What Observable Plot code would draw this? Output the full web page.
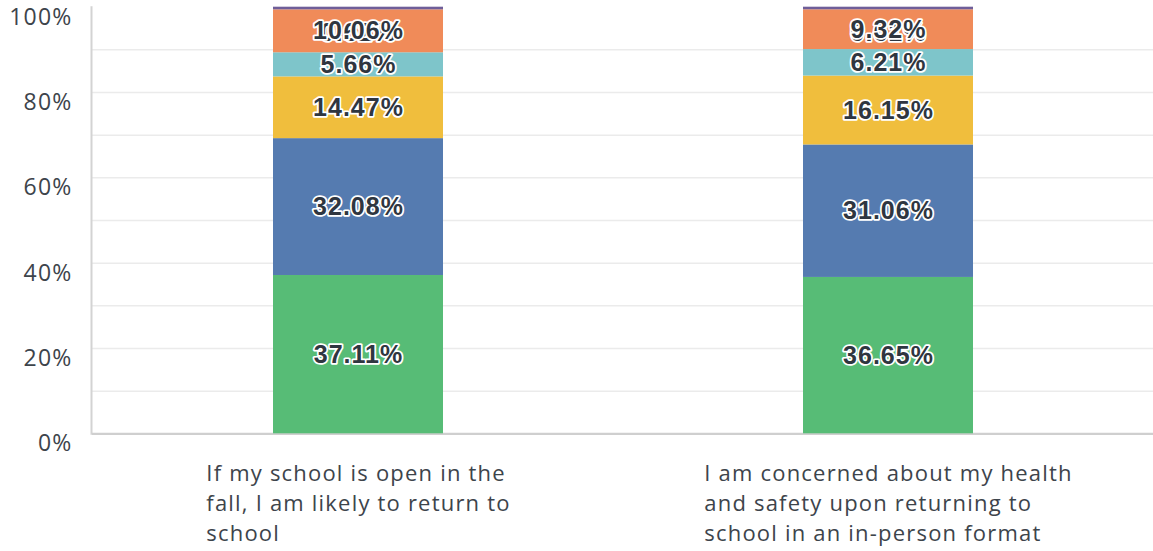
<!DOCTYPE html>
<html>
<head>
<meta charset="utf-8">
<script src="https://cdn.jsdelivr.net/npm/d3@7"></script>
<script src="https://cdn.jsdelivr.net/npm/@observablehq/plot@0.6"></script>
<style>
  html, body { margin: 0; padding: 0; background: #fff; }
  #chart svg { display: block; }
  .qlabel text { letter-spacing: 1.2px; }
  .ylab text { letter-spacing: 1.2px; }
  .vlab text { letter-spacing: 1px; }
</style>
</head>
<body>
<div id="chart"></div>
<script>
const questions = [
  "If my school is open in the fall, I am likely to return to school",
  "I am concerned about my health and safety upon returning to school in an in-person format"
];
const questionLabels = [
  "If my school is open in the\nfall, I am likely to return to\nschool",
  "I am concerned about my health\nand safety upon returning to\nschool in an in-person format"
];
const responses = ["Strongly agree", "Agree", "Neither agree nor disagree", "Disagree", "Strongly disagree", "N/A"];
const colors = ["#57bc76", "#557bb0", "#f0be3d", "#7ec5ca", "#f08b59", "#6f5e99"];
const valuesQ1 = [37.11, 32.08, 14.47, 5.66, 10.06, 0.62];
const valuesQ2 = [36.65, 31.06, 16.15, 6.21, 9.32, 0.61];
const yTicks = [0, 20, 40, 60, 80, 100];
const gridTicks = [10, 20, 30, 40, 50, 60, 70, 80, 90];

const data = [];
[valuesQ1, valuesQ2].forEach((vals, qi) => {
  vals.forEach((v, ri) => data.push({question: questions[qi], response: responses[ri], value: v}));
});
const labelData = questions.map((q, i) => ({question: q, label: questionLabels[i]}));

const stackOpts = {x: "question", y: "value", z: "response", order: responses};
const pct = d => d.value.toFixed(2) + "%";
const valueTextStyle = {
  fontSize: 25, fontWeight: "bold", className: "vlab",
  fontFamily: "'Liberation Sans', Arial, sans-serif",
  fill: "#2f3640", stroke: "#fff", strokeWidth: 3.5, paintOrder: "stroke"
};

const plot = Plot.plot({
  width: 1153,
  height: 551,
  marginTop: 6.7,
  marginBottom: 117.7,
  marginLeft: 92,
  marginRight: 0,
  style: {fontFamily: "'Open Sans', sans-serif", background: "#fff"},
  x: {domain: questions, paddingInner: 0.68, paddingOuter: 0.34, axis: null},
  y: {domain: [0, 100], axis: null},
  color: {domain: responses, range: colors},
  marks: [
    Plot.ruleY(gridTicks, {stroke: "#ebebeb", strokeWidth: 1.5}),
    Plot.frame({anchor: "left", stroke: "#d3d3d3", strokeWidth: 2, dx: -1}),
    Plot.ruleY([0], {stroke: "#cfcfcf", strokeWidth: 2.2}),
    Plot.barY(data, Plot.stackY({...stackOpts, fill: "response"})),
    Plot.axisY(yTicks, {
      tickSize: 0, tickPadding: 20, tickFormat: d => d + "%", label: null,
      fontSize: 23, fill: "#3d444b", dy: 10, anchor: "left", className: "ylab"
    }),
    Plot.text(data, Plot.stackY({
      ...stackOpts,
      text: d => d.response === "N/A" ? pct(d) : null,
      dy: 24, ...valueTextStyle
    })),
    Plot.text(data, Plot.stackY({
      ...stackOpts,
      text: d => d.response !== "N/A" ? pct(d) : null,
      ...valueTextStyle
    })),
    Plot.text(labelData, {
      x: "question", y: 0, text: "label",
      className: "qlabel",
      textAnchor: "start", lineAnchor: "top", dy: 26,
      lineHeight: 1.36, fontSize: 22, fill: "#3d444b"
    })
  ]
});
document.getElementById("chart").appendChild(plot);
// center each left-aligned label block on its bar
plot.querySelectorAll(".qlabel text").forEach(t => {
  const w = t.getBBox().width;
  const tr = t.getAttribute("transform") || "";
  t.setAttribute("transform", tr + ` translate(${-w / 2},0)`);
});
</script>
</body>
</html>
